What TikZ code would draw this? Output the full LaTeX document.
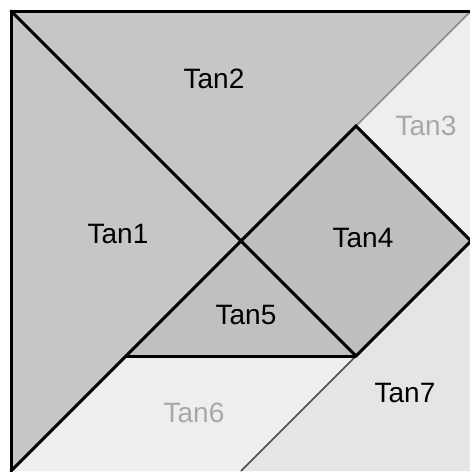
\documentclass[tikz,border=0pt]{standalone}
\usepackage{fontspec}
\setmainfont{Liberation Sans}
\definecolor{midgray}{HTML}{C6C6C6}
\definecolor{darkpiece}{HTML}{BEBEBE}
\definecolor{lightpiece}{HTML}{EEEEEE}
\definecolor{lightpieceb}{HTML}{E5E5E5}
\definecolor{labelgray}{HTML}{A8A8A8}
\definecolor{seam}{HTML}{8A8A8A}
\tikzset{
  piece/.style={line join=miter},
  bold edge/.style={draw=black, line width=3pt, line join=miter, line cap=round},
  seam edge/.style={draw=seam, line width=1.5pt},
  lbl/.style={font=\fontsize{28}{28}\selectfont, anchor=base, inner sep=0pt},
}
\begin{document}
\begin{tikzpicture}[x=1pt,y=-1pt]
\useasboundingbox (0,0) rectangle (470,472);
\fill[white] (0,0) rectangle (470,472);
% pieces
\coordinate (A) at (11,11);
\coordinate (B) at (471,11);
\coordinate (C) at (471,471);
\coordinate (D) at (11,471);
\coordinate (O) at (241,241);
\coordinate (P) at (356,126);
\coordinate (Q) at (471,241);
\coordinate (R) at (356,356);
\coordinate (S) at (126,356);
\coordinate (T) at (241,471);
\fill[midgray] (A) -- (O) -- (S) -- (D) -- cycle;          % Tan1
\fill[midgray] (A) -- (B) -- (P) -- (O) -- cycle;          % Tan2
\fill[lightpiece] (B) -- (Q) -- (P) -- cycle;              % Tan3
\fill[darkpiece] (P) -- (Q) -- (R) -- (O) -- cycle;        % Tan4
\fill[midgray!97!black] (O) -- (R) -- (S) -- cycle;        % Tan5
\fill[lightpiece] (S) -- (R) -- (T) -- (D) -- cycle;       % Tan6
\fill[lightpieceb] (Q) -- (C) -- (T) -- cycle;             % Tan7
% seams
\draw[seam edge] (B) -- (P);
\draw[seam edge] (P) -- (Q);
\draw[draw=black!70, line width=1.5pt] (R) -- (T);
\draw[seam edge] (Q) -- (R);
% bold edges
\draw[bold edge] (C |- A) -- (A) -- (D);
\draw[bold edge] (A) -- (O) -- (R);
\draw[bold edge] (O) -- (P) -- (Q) -- (R);
\draw[bold edge] (R) -- (S);
\draw[bold edge] (O) -- (S) -- (D);
% labels
\node[lbl] (t1) at (118,243) {Tan1};
\node[lbl] (t2) at (214,88) {Tan2};
\node[lbl, text=labelgray] (t3) at (426,135) {Tan3};
\node[lbl] (t4) at (363,247) {Tan4};
\node[lbl] (t5) at (246,324) {Tan5};
\node[lbl, text=labelgray] (t6) at (194,422) {Tan6};
\node[lbl] (t7) at (405,402) {Tan7};
\end{tikzpicture}
\end{document}
